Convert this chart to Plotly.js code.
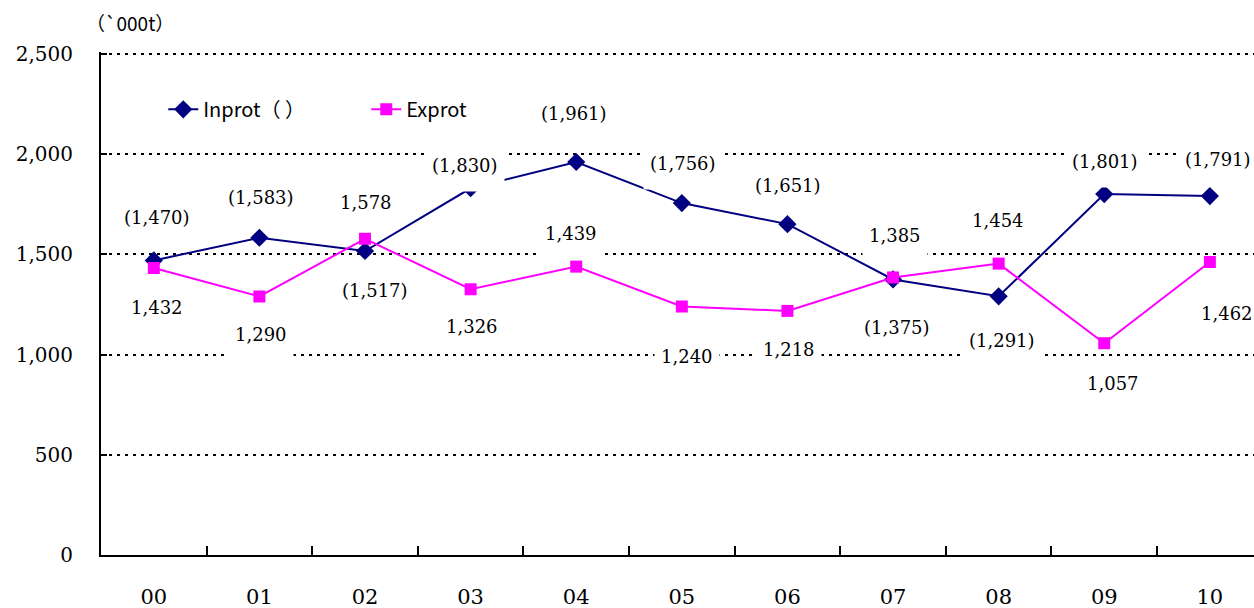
<!DOCTYPE html>
<html>
<head>
<meta charset="utf-8">
<script src="https://cdn.plot.ly/plotly-3.0.1.min.js"></script>
<style>html,body{margin:0;padding:0;background:#fff;}#chart{width:1254px;height:608px;}</style>
</head>
<body>
<div id="chart"></div>
<script>
// ---- data ----
const years = ["00","01","02","03","04","05","06","07","08","09","10"];
const inprot = [1470,1583,1517,1830,1961,1756,1651,1375,1291,1801,1791];
const exprot = [1432,1290,1578,1326,1439,1240,1218,1385,1454,1057,1462];
const seriesNames = ["Inprot（ ）", "Exprot"];
const unitLabel = "（`000t）";
const yTicks = [0,500,1000,1500,2000,2500];

// ---- label placement (pixel offsets from each point: dx right, dy down) ----
const inLabelDx = [3,2,10,-6,-2,1,1,4,3,1,8];
const inLabelDy = [-43,-41,39,-23,-49,-40,-39,48,44,-33,-37];
const exLabelDx = [3,2,1,1,-5,5,2,2,-1,9,17];
const exLabelDy = [39,38,-37,37,-34,49,38,-42,-44,40,51];

const fmt = v => v.toLocaleString('en-US');
const serif = "DejaVu Serif, Liberation Serif, serif";
const sans = "Noto Sans CJK JP, Noto Sans, sans-serif";

const traces = [
  {x: years, y: inprot, name: seriesNames[0], type: 'scatter', mode: 'lines+markers',
   line: {color: '#000080', width: 2}, marker: {symbol: 'diamond', size: 14, color: '#000080'}},
  {x: years, y: exprot, name: seriesNames[1], type: 'scatter', mode: 'lines+markers',
   line: {color: '#FF00FF', width: 2}, marker: {symbol: 'square', size: 12, color: '#FF00FF'}}
];

const labelBox = {bgcolor: '#fff', borderpad: 6, height: 40, showarrow: false,
  font: {family: serif, size: 18, color: '#000'}};
const annotations = [];
years.forEach((c, i) => {
  annotations.push(Object.assign({x: c, y: inprot[i], xref: 'x', yref: 'y', text: '(' + fmt(inprot[i]) + ')',
    xshift: inLabelDx[i], yshift: -inLabelDy[i]}, labelBox));
  annotations.push(Object.assign({x: c, y: exprot[i], xref: 'x', yref: 'y', text: fmt(exprot[i]),
    xshift: exLabelDx[i], yshift: -exLabelDy[i]}, labelBox));
});
annotations.push({xref: 'paper', yref: 'paper', x: -0.015, y: 1.0, xanchor: 'left', yanchor: 'bottom',
  yshift: 14, text: unitLabel, showarrow: false, font: {family: sans, size: 19, color: '#000'}});

const layout = {
  width: 1254, height: 608,
  margin: {l: 101, r: 0, t: 52, b: 53},
  paper_bgcolor: '#fff', plot_bgcolor: '#fff',
  showlegend: true,
  legend: {orientation: 'h', x: 0.054, y: 0.886, xanchor: 'left', yanchor: 'middle',
    font: {family: sans, size: 20, color: '#000'}, bgcolor: 'rgba(0,0,0,0)', entrywidth: 158},
  xaxis: {type: 'category', range: [-0.5, 10.418], tickson: 'boundaries', ticks: 'inside', ticklen: 9,
    tickwidth: 2, tickcolor: '#000', showline: true, linecolor: '#000', linewidth: 2, showgrid: false,
    ticklabelstandoff: 22, tickfont: {family: serif, size: 21, color: '#000'}, fixedrange: true},
  yaxis: {range: [0, 2510], tickvals: yTicks, ticktext: yTicks.map(fmt), ticks: 'inside', ticklen: 6,
    tickwidth: 2, tickcolor: '#000', showline: true, linecolor: '#000', linewidth: 2,
    showgrid: true, gridcolor: '#000', gridwidth: 2, griddash: '3px,5px', zeroline: false,
    ticklabelstandoff: 22, tickfont: {family: serif, size: 20, color: '#000'}, fixedrange: true},
  annotations: annotations
};

Plotly.newPlot('chart', traces, layout, {displayModeBar: false, staticPlot: true});
</script>
</body>
</html>
